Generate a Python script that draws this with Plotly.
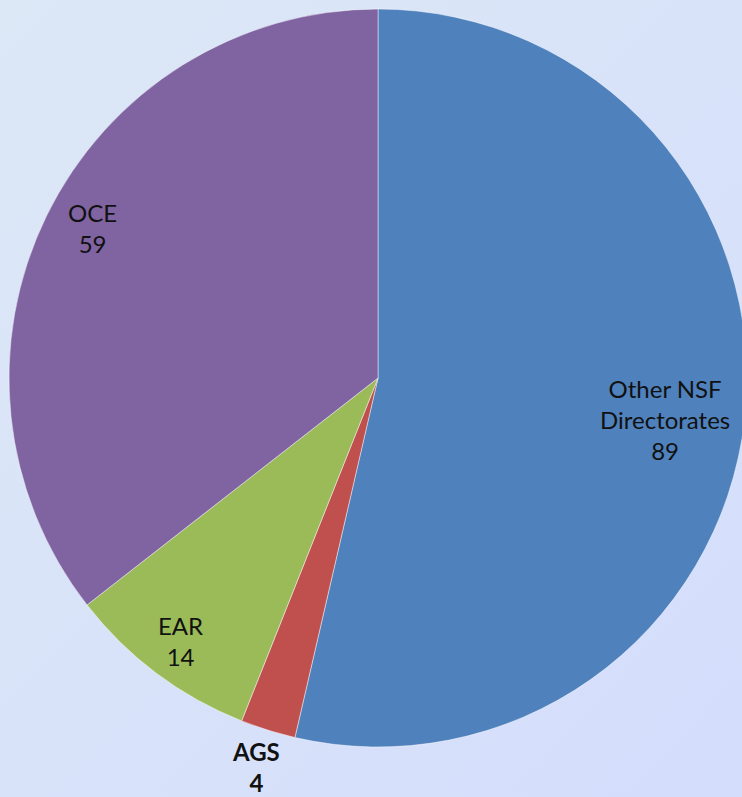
import math
import plotly.graph_objects as go

labels = ["Other NSF Directorates", "AGS", "EAR", "OCE"]
label_text = ["Other NSF<br>Directorates", "<b>AGS</b>", "EAR", "OCE"]
values = [89, 4, 14, 59]
colors = ["#4F81BD", "#C0504D", "#9BBB59", "#8064A2"]
label_radius = [0.786, 1.105, 0.89, 0.875]
label_angle_shift = [1.8, 0.0, 0.0, 1.7]
bold_value = [False, True, False, False]

W, H = 756, 797
cx, cy, R = 378, 378, 369

bg_svg = (
    "data:image/svg+xml;utf8,"
    "<svg xmlns='http://www.w3.org/2000/svg' width='100' height='100' preserveAspectRatio='none'>"
    "<defs><linearGradient id='g' x1='0' y1='0' x2='1' y2='1'>"
    "<stop offset='0' stop-color='%23dce8f6'/><stop offset='1' stop-color='%23d4ddfc'/>"
    "</linearGradient></defs><rect width='100' height='100' fill='url(%23g)'/></svg>"
)

fig = go.Figure(go.Pie(
    labels=labels,
    values=values,
    sort=False,
    direction="clockwise",
    rotation=0,
    marker=dict(colors=colors, line=dict(color="rgba(255,255,255,0.45)", width=1)),
    textinfo="none",
    hoverinfo="label+value",
    showlegend=False,
    domain=dict(x=[(cx - R) / W, (cx + R) / W], y=[1 - (cy + R) / H, 1 - (cy - R) / H]),
))

total = sum(values)
cum = 0
annotations = []
for lab, v, f, da, b in zip(label_text, values, label_radius, label_angle_shift, bold_value):
    theta = math.radians((cum + v / 2) / total * 360 + da)
    cum += v
    px = cx + f * R * math.sin(theta)
    py = cy - f * R * math.cos(theta)
    val = f"<b>{v}</b>" if b else str(v)
    annotations.append(dict(
        x=px / W, y=1 - py / H, xref="paper", yref="paper",
        text=f"{lab}<br>{val}", showarrow=False,
        xanchor="center", yanchor="middle", align="center",
        font=dict(family="Lato, Carlito, sans-serif", size=24, color="#111111"),
    ))

fig.update_layout(
    width=W, height=H,
    margin=dict(l=0, r=0, t=0, b=0),
    paper_bgcolor="#d8e2f8",
    plot_bgcolor="rgba(0,0,0,0)",
    annotations=annotations,
    images=[dict(source=bg_svg, xref="paper", yref="paper", x=0, y=1,
                 sizex=1, sizey=1, sizing="stretch", layer="below",
                 xanchor="left", yanchor="top")],
)

fig.write_html(
    "out.html",
    config={"displayModeBar": False},
    post_script="document.documentElement.style.overflow='hidden';"
                "document.body.style.overflow='hidden';document.body.style.margin='0';",
)
